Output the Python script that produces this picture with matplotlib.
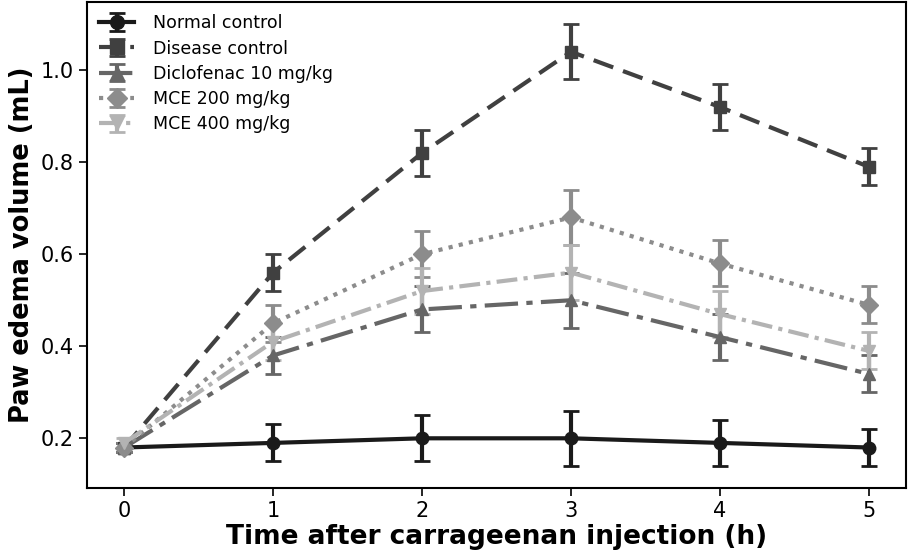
import matplotlib
matplotlib.use("Agg")
import matplotlib.pyplot as plt

time_h = [0, 1, 2, 3, 4, 5]
labels = ["Normal control", "Disease control", "Diclofenac 10 mg/kg", "MCE 200 mg/kg", "MCE 400 mg/kg"]
normal = [0.18, 0.19, 0.20, 0.20, 0.19, 0.18]
normal_err = [0.01, 0.04, 0.05, 0.06, 0.05, 0.04]
disease = [0.18, 0.56, 0.82, 1.04, 0.92, 0.79]
disease_err = [0.01, 0.04, 0.05, 0.06, 0.05, 0.04]
diclofenac = [0.18, 0.38, 0.48, 0.50, 0.42, 0.34]
diclofenac_err = [0.01, 0.04, 0.05, 0.06, 0.05, 0.04]
mce200 = [0.18, 0.45, 0.60, 0.68, 0.58, 0.49]
mce200_err = [0.01, 0.04, 0.05, 0.06, 0.05, 0.04]
mce400 = [0.19, 0.41, 0.52, 0.56, 0.47, 0.39]
mce400_err = [0.01, 0.04, 0.05, 0.06, 0.05, 0.04]

series = [normal, disease, diclofenac, mce200, mce400]
errors = [normal_err, disease_err, diclofenac_err, mce200_err, mce400_err]
colors = ["#1a1a1a", "#404040", "#666666", "#8c8c8c", "#b3b3b3"]
markers = ["o", "s", "^", "D", "v"]
styles = ["-", (0, (5, 2.5)), (0, (8, 2, 1.5, 2)), (0, (1, 1.5)), (0, (5, 1.5, 1, 1.5))]
msizes = [9, 9, 9, 9, 9]

fig = plt.figure(figsize=(9.09, 5.56), dpi=100)
ax = fig.add_axes([0.0957, 0.1223, 0.901, 0.874])
for y, e, c, m, ls, lab, ms in zip(series, errors, colors, markers, styles, labels, msizes):
    ax.errorbar(time_h, y, yerr=e, color=c, marker=m, linestyle=ls, linewidth=3,
                markersize=ms, capsize=6, elinewidth=3, capthick=2, label=lab)

ax.set_xticks(time_h)
ax.set_yticks([0.2, 0.4, 0.6, 0.8, 1.0])
ax.tick_params(labelsize=15, width=1.2, length=6)
ax.set_xlabel("Time after carrageenan injection (h)", fontsize=19, fontweight="bold", labelpad=2)
ax.set_ylabel("Paw edema volume (mL)", fontsize=18.5, fontweight="bold", labelpad=4)
for s in ax.spines.values():
    s.set_linewidth(1.5)
ax.legend(loc="upper left", frameon=False, fontsize=12.5, handlelength=2.0,
          borderaxespad=0.3, labelspacing=0.42, markerscale=1.1, handletextpad=1.1)
fig.savefig("out.png", dpi=100)
